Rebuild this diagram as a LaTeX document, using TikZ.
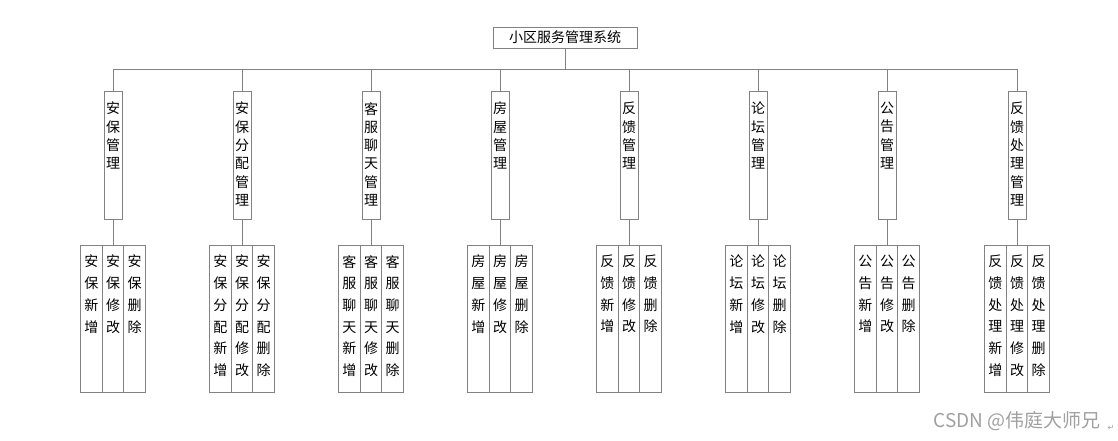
\documentclass[tikz,border=0pt]{standalone}
\usepackage{fontspec}
\setmainfont{Noto Sans CJK SC}
\newfontfamily\symfont{DejaVu Sans}
\XeTeXlinebreaklocale "zh"
\XeTeXlinebreakskip=0pt plus 1pt
\usetikzlibrary{positioning}
\definecolor{edge}{HTML}{828282}
\definecolor{muted}{HTML}{A0A0A0}
\tikzset{
  wire/.style={draw=edge,line width=0.9pt},
  rootbox/.style={draw=edge,line width=0.9pt,minimum width=144,minimum height=21,inner sep=0,font=\fontsize{14}{16}\selectfont},
  modbox/.style={draw=edge,line width=0.9pt,minimum width=18,minimum height=128,inner sep=0,anchor=north},
  subbox/.style={draw=edge,line width=0.9pt,minimum width=21.7,minimum height=147,inner sep=0,anchor=north},
  modtext/.style={inner sep=0,text width=15,align=center,font=\fontsize{14}{18.3}\selectfont},
  subtext/.style={inner sep=0,text width=15,align=center,font=\fontsize{14}{21.7}\selectfont}
}
\begin{document}
\begin{tikzpicture}[x=1pt,y=-1pt]
  \useasboundingbox (0,0) rectangle (1118,440);
  \node[rootbox] (root) at (565,37.5) {小区服务管理系统};
  \coordinate (bus) at (565,69);
  \foreach \i/\x/\pre in {1/113/安保,2/242/安保分配,3/371/客服聊天,4/500/房屋,5/629/反馈,6/758/论坛,7/887/公告,8/1017/反馈处理}{
    \node[modbox] (m\i) at (\x,91) {};
    \node[modtext,below=11pt of m\i.north] (t\i) {\pre 管理};
    \foreach \j/\op/\dx in {a/新增/-21.7,b/修改/0,c/删除/21.7}{
      \node[subbox] (s\i\j) at ({\x+(\dx)},245) {};
      \node[subtext,below=10pt of s\i\j.north] (t\i\j) {\pre\op};
    }
    \draw[wire] (m\i.north) -- (m\i.north |- bus);
    \draw[wire] (m\i.south) -- (s\i b.north);
  }
  \draw[wire] (root.south) -- (bus);
  \draw[wire] (m1.north |- bus) -- (m8.north |- bus);
  \node[text=muted,font=\fontsize{19}{21}\selectfont] (mark) at (1017,421) {CSDN @伟庭大师兄};
  \node[text=muted,font=\symfont\fontsize{8}{9}\selectfont] (pmark) at (1111,428) {↵};
\end{tikzpicture}
\end{document}
